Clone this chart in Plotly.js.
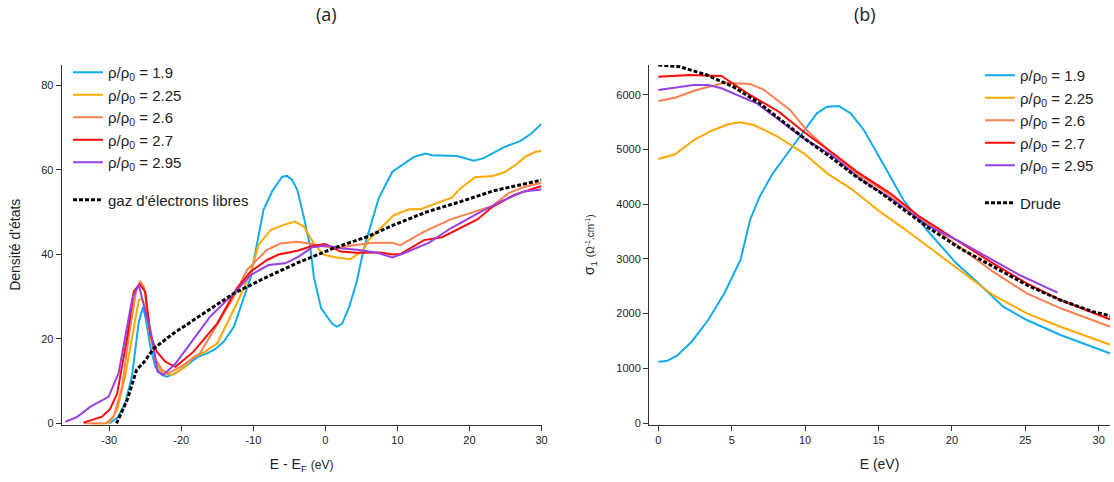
<!DOCTYPE html>
<html>
<head>
<meta charset="utf-8">
<script src="https://cdn.plot.ly/plotly-3.0.1.min.js"></script>
<style>html,body{margin:0;padding:0;background:#fff;}#chart{width:1114px;height:482px;}</style>
</head>
<body>
<div id="chart"></div>
<script>
// ---------- Panel (a): densité d'états ----------
const a_blue_E = [-30.0, -28.8, -27.8, -26.85, -25.9, -25.3, -24.9, -24.3, -23.6, -22.7, -22.0, -20.8, -19.2, -17.8, -16.4, -15.3, -14.1, -12.7, -11.6, -10.4, -8.6, -7.4, -6.0, -5.3, -4.6, -3.9, -3.0, -2.1, -1.6, -0.6, 0.4, 0.9, 1.6, 2.35, 3.3, 4.3, 5.3, 7.4, 9.3, 12.3, 13.9, 14.8, 18.3, 20.6, 22.0, 24.8, 26.2, 27.1, 28.5, 30.0];
const a_blue_D = [0.0, 1.5, 4.8, 11.1, 24.1, 27.6, 24.5, 18.2, 13.4, 11.5, 11.1, 11.9, 13.8, 15.7, 16.6, 17.6, 19.4, 22.9, 28.4, 34.4, 50.5, 54.9, 58.4, 58.6, 57.6, 55.3, 48.9, 41.8, 34.7, 27.3, 24.9, 23.7, 22.9, 23.7, 27.6, 33.2, 41.1, 53.3, 59.6, 63.1, 63.9, 63.5, 63.3, 62.2, 62.8, 65.4, 66.3, 66.9, 68.5, 70.9];

const a_orange_E = [-32.5, -30.5, -29.9, -28.9, -27.8, -26.6, -25.9, -25.5, -25.0, -24.3, -23.4, -22.5, -21.3, -19.7, -18.3, -16.9, -15.0, -12.3, -10.4, -9.3, -7.6, -5.8, -4.2, -3.0, -1.6, -0.2, 1.6, 3.5, 5.3, 6.0, 9.5, 11.6, 13.2, 17.6, 18.75, 20.8, 23.2, 24.8, 26.4, 27.8, 29.2, 30.0];
const a_orange_D = [0.0, 0.0, 0.4, 3.2, 11.1, 22.9, 29.2, 29.6, 27.6, 20.5, 13.8, 11.9, 11.5, 13.1, 15.7, 16.8, 19.0, 28.4, 35.5, 42.2, 45.8, 47.0, 47.8, 46.6, 42.6, 39.9, 39.3, 38.9, 41.1, 43.4, 49.3, 50.7, 50.7, 53.5, 55.7, 58.3, 58.6, 59.4, 61.2, 63.2, 64.3, 64.5];

const a_coral_E = [-33.5, -30.5, -29.4, -28.2, -27.3, -26.25, -25.7, -25.2, -24.5, -23.6, -22.7, -21.8, -20.1, -17.4, -15.0, -12.7, -10.9, -10.0, -8.1, -6.25, -3.9, -1.85, 0.0, 1.6, 3.9, 6.7, 9.3, 10.4, 13.7, 17.4, 21.1, 23.2, 25.5, 27.5, 30.0];
const a_coral_D = [0.0, 0.0, 1.6, 8.7, 20.5, 31.6, 33.6, 32.4, 24.5, 15.4, 12.7, 11.9, 13.4, 16.6, 23.5, 30.0, 36.3, 37.9, 41.1, 42.6, 43.0, 42.5, 41.8, 41.5, 42.2, 42.8, 42.8, 42.2, 45.4, 48.3, 50.4, 51.5, 54.6, 55.9, 57.0];

const a_red_E = [-33.6, -31.0, -29.9, -28.9, -27.5, -26.6, -25.8, -25.0, -24.3, -23.4, -22.2, -20.8, -18.3, -15.0, -12.3, -10.4, -8.1, -6.5, -3.9, -1.85, 0.0, 2.1, 4.4, 7.6, 9.3, 10.4, 13.7, 16.2, 21.1, 23.2, 26.2, 30.0];
const a_red_D = [0.2, 1.6, 3.4, 7.1, 20.5, 31.2, 33.0, 31.2, 20.9, 17.0, 14.6, 13.4, 17.0, 23.7, 32.0, 35.9, 38.7, 40.0, 40.9, 42.0, 42.5, 40.7, 40.4, 40.5, 40.0, 40.1, 43.4, 44.1, 48.3, 51.3, 54.1, 56.2];

const a_purple_E = [-36.1, -34.5, -32.6, -30.1, -28.7, -26.8, -25.9, -24.1, -23.3, -22.5, -20.8, -16.0, -12.7, -10.4, -7.9, -5.6, -3.7, -1.85, 0.2, 2.1, 4.4, 7.2, 9.3, 10.9, 14.4, 17.4, 21.1, 24.3, 27.5, 30.0];
const a_purple_D = [0.4, 1.5, 4.0, 6.3, 11.9, 29.6, 32.8, 20.5, 12.3, 11.5, 14.2, 25.3, 30.8, 35.1, 37.5, 37.9, 39.5, 41.7, 42.1, 41.5, 41.1, 40.4, 39.3, 40.3, 42.8, 46.2, 49.7, 52.5, 54.9, 55.4];

const a_free_E = [-29.0, -28.5, -27.5, -26.2, -25.2, -23.8, -21.1, -17.4, -12.7, -8.1, -3.5, 1.15, 5.8, 9.5, 14.1, 18.75, 23.4, 30.0];
const a_free_D = [0.0, 2.0, 5.6, 12.7, 14.5, 17.8, 21.3, 25.5, 30.8, 34.7, 38.3, 41.5, 44.2, 47.0, 50.1, 52.5, 55.1, 57.6];

// ---------- Panel (b): conductivité optique ----------
const b_blue_E = [0, 0.57, 1.25, 2.27, 3.4, 4.5, 5.6, 6.25, 6.9, 7.8, 8.97, 9.9, 10.8, 11.5, 12.3, 13.1, 14.0, 15.1, 16.7, 18.3, 20.3, 21.7, 23.5, 25.1, 27.4, 31.0];
const b_blue_S = [1121, 1133, 1225, 1486, 1883, 2371, 2980, 3711, 4137, 4564, 4990, 5325, 5661, 5782, 5795, 5661, 5356, 4838, 4076, 3528, 2919, 2583, 2126, 1883, 1609, 1250];

const b_orange_E = [0, 1.14, 2.5, 3.6, 4.8, 5.6, 6.5, 8.07, 9.9, 11.5, 13.1, 15.1, 16.7, 20.1, 22.8, 25.1, 27.4, 31.0];
const b_orange_S = [4826, 4912, 5186, 5338, 5466, 5497, 5447, 5246, 4930, 4564, 4290, 3863, 3559, 2888, 2340, 2005, 1760, 1410];

const b_coral_E = [0, 1.14, 2.6, 4.5, 6.25, 7.15, 8.97, 10.1, 11.7, 13.5, 15.1, 18.3, 20.3, 22.8, 25.1, 27.4, 31.0];
const b_coral_S = [5886, 5947, 6087, 6221, 6197, 6100, 5722, 5356, 4959, 4564, 4290, 3650, 3254, 2766, 2371, 2097, 1740];

const b_red_E = [0, 2.16, 4.3, 6.25, 8.2, 9.9, 11.9, 13.5, 15.8, 17.8, 20.3, 22.8, 25.1, 27.4, 31.0];
const b_red_S = [6331, 6361, 6343, 5996, 5691, 5325, 4930, 4600, 4199, 3771, 3345, 2919, 2554, 2248, 1870];

const b_purple_E = [0, 2.4, 3.4, 4.3, 6.7, 9.9, 11.8, 13.7, 16.0, 18.3, 20.55, 22.4, 24.6, 27.2];
const b_purple_S = [6087, 6179, 6179, 6118, 5844, 5204, 4899, 4473, 4076, 3619, 3314, 3040, 2705, 2382];

const b_drude_E = [0, 1.48, 3.3, 5.1, 6.9, 8.5, 10.1, 11.7, 13.5, 15.1, 16.0, 18.3, 20.55, 22.8, 25.1, 27.4, 29.6, 31.0];
const b_drude_S = [6544, 6513, 6361, 6148, 5844, 5508, 5173, 4868, 4500, 4220, 4040, 3589, 3193, 2857, 2523, 2248, 2035, 1945];

// ---------- tick labels ----------
const a_xticks = [-30, -20, -10, 0, 10, 20, 30];
const a_xticktext = ['-30', '-20', '-10', '0', '10', '20', '30'];
const a_yticks = [0, 20, 40, 60, 80];
const b_xticks = [0, 5, 10, 15, 20, 25, 30];
const b_yticks = [0, 1000, 2000, 3000, 4000, 5000, 6000];

const seriesNames = ['ρ/ρ<sub>0</sub> = 1.9', 'ρ/ρ<sub>0</sub> = 2.25', 'ρ/ρ<sub>0</sub> = 2.6', 'ρ/ρ<sub>0</sub> = 2.7', 'ρ/ρ<sub>0</sub> = 2.95'];
const freeName = "gaz d'électrons libres";
const drudeName = 'Drude';

const colors = ['#12ABEB', '#FFA800', '#FF8050', '#FF0A0A', '#9640E6'];

const aX = [a_blue_E, a_orange_E, a_coral_E, a_red_E, a_purple_E];
const aY = [a_blue_D, a_orange_D, a_coral_D, a_red_D, a_purple_D];
const bX = [b_blue_E, b_orange_E, b_coral_E, b_red_E, b_purple_E];
const bY = [b_blue_S, b_orange_S, b_coral_S, b_red_S, b_purple_S];

const traces = [];
for (let i = 0; i < 5; i++) {
  traces.push({x: aX[i], y: aY[i], type: 'scatter', mode: 'lines', name: seriesNames[i],
    line: {color: colors[i], width: 2}, xaxis: 'x', yaxis: 'y', legend: 'legend', legendgroup: 'a1'});
}
traces.push({x: a_free_E, y: a_free_D, type: 'scatter', mode: 'lines', name: freeName,
  line: {color: '#000', width: 3, dash: '4px,2px'}, xaxis: 'x', yaxis: 'y', legend: 'legend', legendgroup: 'a2'});
for (let i = 0; i < 5; i++) {
  traces.push({x: bX[i], y: bY[i], type: 'scatter', mode: 'lines', name: seriesNames[i],
    line: {color: colors[i], width: 2}, xaxis: 'x2', yaxis: 'y2', legend: 'legend2', legendgroup: 'b1'});
}
traces.push({x: b_drude_E, y: b_drude_S, type: 'scatter', mode: 'lines', name: drudeName,
  line: {color: '#000', width: 3, dash: '4px,2px'}, xaxis: 'x2', yaxis: 'y2', legend: 'legend2', legendgroup: 'b2'});

const FONT = 'Liberation Sans, Arial, sans-serif';
const axisCommon = {
  showline: true, linecolor: '#333', linewidth: 1, ticks: 'outside', ticklen: 5, tickcolor: '#333',
  showgrid: false, zeroline: false, tickfont: {family: FONT, size: 11, color: '#222'}
};
const H = 482, W = 1114;
const yDom = [1 - 424.5 / H, 1 - 65 / H];

const layout = {
  width: W, height: H, margin: {l: 0, r: 0, t: 0, b: 0}, paper_bgcolor: '#fff', plot_bgcolor: '#fff',
  font: {family: FONT, color: '#222'},
  xaxis: Object.assign({}, axisCommon, {domain: [61.7 / W, 541.5 / W], range: [-36.6, 30.0], tickvals: a_xticks, ticktext: a_xticktext, anchor: 'y',
    title: {text: 'E - E<sub>F</sub> <span style="font-size:12px">(eV)</span>', font: {family: FONT, size: 14, color: '#222'}, standoff: 14}}),
  yaxis: Object.assign({}, axisCommon, {domain: yDom, range: [-0.24, 84.85], tickvals: a_yticks, anchor: 'x',
    title: {text: "Densité d'états", font: {family: FONT, size: 14, color: '#222'}, standoff: 17}}),
  xaxis2: Object.assign({}, axisCommon, {domain: [649 / W, 1110 / W], range: [-0.634, 30.77], tickvals: b_xticks, anchor: 'y2',
    title: {text: 'E (eV)', font: {family: FONT, size: 14, color: '#222'}, standoff: 14}}),
  yaxis2: Object.assign({}, axisCommon, {domain: yDom, range: [-27, 6544], tickvals: b_yticks, anchor: 'x2',
    title: {text: 'σ<sub>1</sub> <span style="font-size:10px">(Ω<sup>-1</sup>.cm<sup>-1</sup>)</span>', font: {family: FONT, size: 14, color: '#222'}, standoff: 18}}),
  showlegend: true,
  legend: {x: 68 / W, y: 1 - 56 / H, xanchor: 'left', yanchor: 'top', bgcolor: 'rgba(0,0,0,0)', borderwidth: 0,
    font: {family: FONT, size: 15, color: '#222'}, itemwidth: 30, traceorder: 'grouped', tracegroupgap: 15},
  legend2: {x: 980 / W, y: 1 - 59 / H, xanchor: 'left', yanchor: 'top', bgcolor: 'rgba(0,0,0,0)', borderwidth: 0,
    font: {family: FONT, size: 15, color: '#222'}, itemwidth: 30, traceorder: 'grouped', tracegroupgap: 15},
  annotations: [
    {text: '(a)', x: 326 / W, y: 1 - 14 / H, xref: 'paper', yref: 'paper', xanchor: 'center', yanchor: 'middle', showarrow: false, font: {family: 'Open Sans, sans-serif', size: 18, color: '#222'}},
    {text: '(b)', x: 865 / W, y: 1 - 14 / H, xref: 'paper', yref: 'paper', xanchor: 'center', yanchor: 'middle', showarrow: false, font: {family: 'Open Sans, sans-serif', size: 18, color: '#222'}}
  ]
};

Plotly.newPlot('chart', traces, layout, {displayModeBar: false, staticPlot: true});
</script>
</body>
</html>
